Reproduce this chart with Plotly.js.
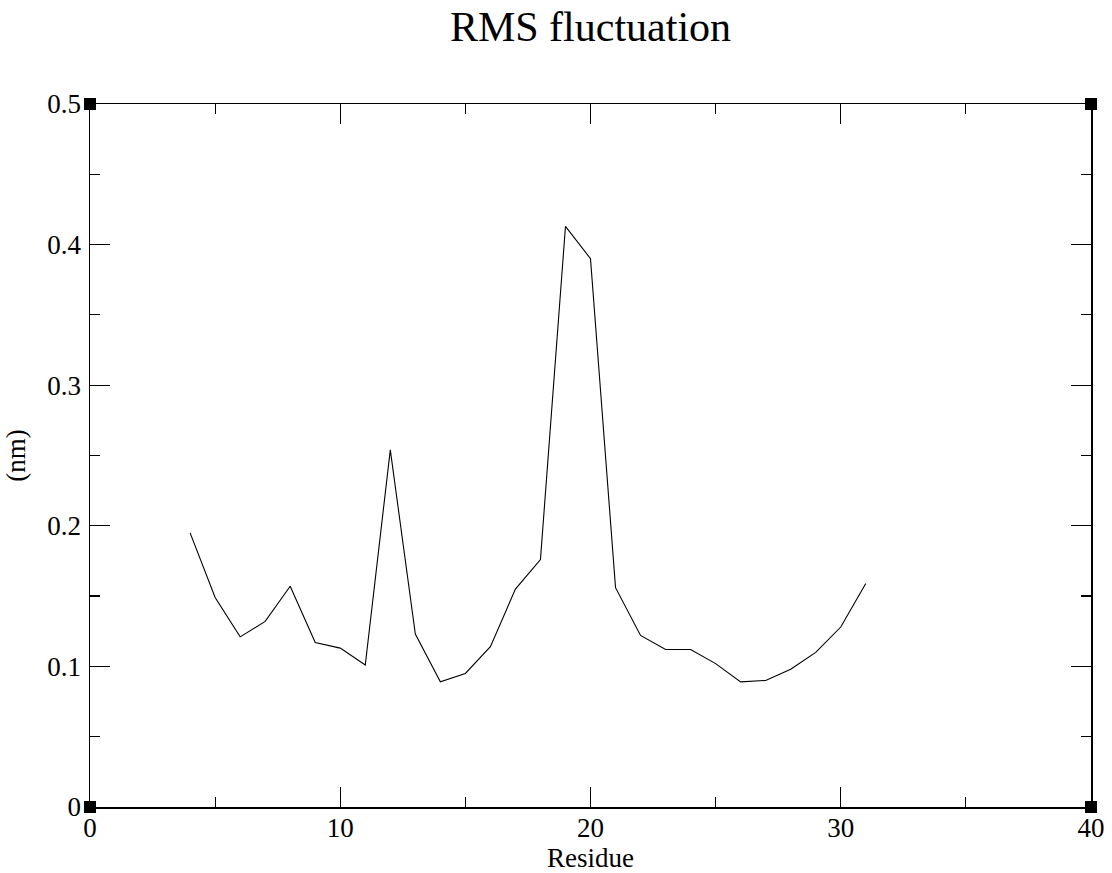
<!DOCTYPE html>
<html>
<head>
<meta charset="utf-8">
<script src="https://cdn.plot.ly/plotly-3.0.1.min.js"></script>
<style>html,body{margin:0;padding:0;background:#fff;}#chart{width:1112px;height:873px;}</style>
</head>
<body>
<div id="chart"></div>
<script>
const residues = [4,5,6,7,8,9,10,11,12,13,14,15,16,17,18,19,20,21,22,23,24,25,26,27,28,29,30,31];
const rmsf = [0.195,0.149,0.121,0.132,0.157,0.117,0.113,0.101,0.254,0.123,0.089,0.095,0.114,0.155,0.176,0.413,0.390,0.156,0.122,0.112,0.112,0.102,0.089,0.090,0.098,0.110,0.128,0.159];
const xTicks = [0,10,20,30,40];
const yTicks = [0,0.1,0.2,0.3,0.4,0.5];
const yTickText = ['0','0.1','0.2','0.3','0.4','0.5'];

const font = 'Liberation Serif, Times New Roman, serif';
const corners = [[0,0],[1,0],[0,1],[1,1]];
const shapes = corners.map(c => ({
  type:'rect', xref:'paper', yref:'paper',
  xsizemode:'pixel', ysizemode:'pixel',
  xanchor:c[0], yanchor:c[1], x0:-6, x1:6, y0:-6, y1:6,
  fillcolor:'#000', line:{width:0}
}));

const axisCommon = {
  showline:true, linecolor:'#000', linewidth:1.5, mirror:'allticks',
  ticks:'inside', ticklen:20, tickwidth:1.2, tickcolor:'#000',
  showgrid:false, zeroline:false,
  tickfont:{family:font, size:27, color:'#000'},
  fixedrange:true
};

Plotly.newPlot('chart', [{
  x: residues, y: rmsf, type:'scatter', mode:'lines',
  line:{color:'#000', width:1.1}, hoverinfo:'skip'
}], {
  width:1112, height:873,
  paper_bgcolor:'#fff', plot_bgcolor:'#fff',
  margin:{l:90, r:21, t:104, b:66},
  showlegend:false,
  title:{text:'RMS fluctuation', font:{family:font, size:42, color:'#000'},
         xref:'paper', x:0.5, xanchor:'center', yref:'container', y:0.97, yanchor:'middle'},
  xaxis: Object.assign({}, axisCommon, {
    range:[0,40], tickvals:xTicks, ticktext:xTicks.map(String),
    minor:{dtick:5, ticklen:10, tickwidth:1.2, tickcolor:'#000', ticks:'inside', showgrid:false},
    ticklabelstandoff:-4,
    title:{text:'Residue', font:{family:font, size:27, color:'#000'}, standoff:0}
  }),
  yaxis: Object.assign({}, axisCommon, {
    range:[0,0.5], tickvals:yTicks, ticktext:yTickText,
    minor:{dtick:0.05, ticklen:10, tickwidth:1.2, tickcolor:'#000', ticks:'inside', showgrid:false},
    ticklabelstandoff:2,
    title:{text:'(nm)', font:{family:font, size:27, color:'#000'}, standoff:14}
  }),
  shapes: shapes
}, {displayModeBar:false, staticPlot:true});
</script>
</body>
</html>
